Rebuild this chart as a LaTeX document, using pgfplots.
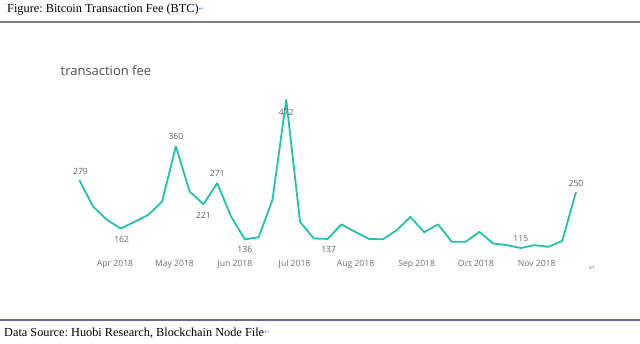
\documentclass[border=0pt]{standalone}
\usepackage{fontspec}
\setmainfont{Liberation Serif}
\newfontfamily\sans{Open Sans}
\newfontfamily\sym{DejaVu Sans}
\usepackage{pgfplots}
\pgfplotsset{compat=1.18}
\frenchspacing
\definecolor{teal1}{RGB}{40,190,172}
\definecolor{tickgray}{RGB}{110,110,110}
\definecolor{labgray}{RGB}{95,95,95}
\definecolor{titlegray}{RGB}{80,80,80}
\definecolor{rulegray}{RGB}{128,128,128}
\definecolor{ruleblue}{RGB}{104,104,168}
\definecolor{markblue}{RGB}{100,150,220}
\newcommand{\parmark}{\textcolor{markblue}{\raisebox{1.5pt}{\sym\fontsize{7}{8}\selectfont ↵}}}
\begin{document}
\begin{tikzpicture}
\useasboundingbox (0pt,0pt) rectangle (640pt,344pt);
% header
\node[anchor=base west, inner sep=0, font=\fontsize{12.3}{14}\selectfont] at (7pt,331.3pt)
  {Figure: Bitcoin Transaction Fee (BTC)\parmark};
\draw[rulegray, line width=2pt] (0pt,322pt) -- (640pt,322pt);
% footer
\draw[ruleblue, line width=1.2pt] (0pt,24pt) -- (640pt,24pt);
\node[anchor=base west, inner sep=0, font=\fontsize{12.3}{14}\selectfont] at (4pt,7.5pt)
  {Data Source: Huobi Research, Blockchain Node File\parmark};
% chart title
\node[anchor=base west, inner sep=0, text=titlegray, font=\sans\fontsize{13}{15}\selectfont] at (60.5pt,268.7pt) {transaction fee};
\node[anchor=center, inner sep=0, text=markblue, font=\sym\fontsize{7}{8}\selectfont] at (592pt,76pt) {↵};
\begin{axis}[
  at={(79.3pt,89.73pt)}, anchor=south west,
  scale only axis, width=496.7pt, height=157.68pt,
  xmin=0, xmax=36, ymin=100, ymax=480,
  axis line style={draw=none},
  major tick length=0pt,
  ytick=\empty,
  xtick={2.59,6.90,11.28,15.60,20.02,24.45,28.74,33.15},
  xticklabels={Apr 2018,May 2018,Jun 2018,Jul 2018,Aug 2018,Sep 2018,Oct 2018,Nov 2018},
  xticklabel style={font=\sans\fontsize{8.6}{10}\selectfont, text=tickgray, anchor=base, yshift=-12.2pt},
  clip=false,
]
\addplot[teal1, line width=1.8pt, line join=round] coordinates {
(0,279) (1,215) (2,183) (3,162) (4,178) (5,195) (6,227) (7,360) (8,251) (9,221)
(10,271) (11,191) (12,136) (13,141) (14,231) (15,472) (16,178) (17,138) (18,137) (19,172)
(20,154) (21,137) (22,136) (23,158) (24,190) (25,153) (26,172) (27,130) (28,130) (29,154)
(30,126) (31,122) (32,115) (33,122) (34,118) (35,132) (36,250)
};
\tikzset{dl/.style={anchor=base, inner sep=0, text=labgray, font=\sans\fontsize{8.6}{10}\selectfont}}
\node[dl, yshift=5pt, xshift=1.2pt] at (axis cs:0,279) {279};
\node[dl, yshift=-14.4pt, xshift=1pt] at (axis cs:3,162) {162};
\node[dl, yshift=6.7pt] at (axis cs:7,360) {360};
\node[dl, yshift=-14.3pt] at (axis cs:9,221) {221};
\node[dl, yshift=6.6pt] at (axis cs:10,271) {271};
\node[dl, yshift=-13.4pt] at (axis cs:12,136) {136};
\node[dl, yshift=-15.1pt] at (axis cs:15,472) {472};
\node[dl, yshift=-13.4pt, xshift=1pt] at (axis cs:18,137) {137};
\node[dl, yshift=6.3pt] at (axis cs:32,115) {115};
\node[dl, yshift=6pt] at (axis cs:36,250) {250};
\end{axis}
\end{tikzpicture}
\end{document}
